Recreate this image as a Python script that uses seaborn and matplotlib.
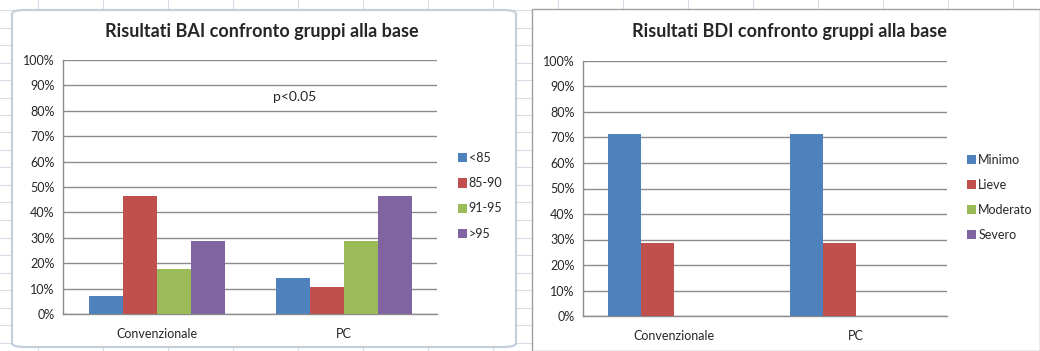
import numpy as np
import pandas as pd
import matplotlib
matplotlib.use("Agg")
import matplotlib.pyplot as plt
from matplotlib.patches import FancyBboxPatch, Rectangle
from matplotlib.lines import Line2D
import seaborn as sns

# data
groups = ["Convenzionale", "PC"]
bai_classes = ["<85", "85-90", "91-95", ">95"]
bai_conv = [7.1, 46.4, 17.9, 28.6]
bai_pc = [14.3, 10.7, 28.6, 46.4]
bdi_classes = ["Minimo", "Lieve", "Moderato", "Severo"]
bdi_conv = [71.4, 28.6, 0.0, 0.0]
bdi_pc = [71.4, 28.6, 0.0, 0.0]
yticks = list(range(0, 101, 10))

colors = ["#4F81BD", "#C0504D", "#9BBB59", "#8064A2"]

sns.set_theme(style="white")
plt.rcParams["font.family"] = ["Lato", "DejaVu Sans"]
txt = "#262626"

df_bai = pd.DataFrame({
    "gruppo": [g for g in groups for _ in bai_classes],
    "classe": bai_classes * 2,
    "val": bai_conv + bai_pc,
})
df_bdi = pd.DataFrame({
    "gruppo": [g for g in groups for _ in bdi_classes],
    "classe": bdi_classes * 2,
    "val": bdi_conv + bdi_pc,
})

W, H = 1040, 351
fig = plt.figure(figsize=(W / 100, H / 100), dpi=100)
fig.patch.set_facecolor("white")

# spreadsheet grid behind the charts
for x in np.arange(38, W, 65):
    fig.add_artist(Line2D([x / W, x / W], [0, 1], color="#d6dce8", lw=0.8, zorder=-3))
for y in np.arange(10, H, 17.5):
    fig.add_artist(Line2D([0, 1], [1 - y / H, 1 - y / H], color="#d6dce8", lw=0.8, zorder=-3))

# chart frames
fig.add_artist(FancyBboxPatch((12 / W, 1 - 347 / H), (516 - 12) / W, (347 - 10) / H,
                              boxstyle="round,pad=0,rounding_size=0.012",
                              transform=fig.transFigure, facecolor="white",
                              edgecolor="#c3cfda", lw=1.6, zorder=-2))
fig.add_artist(Rectangle((532 / W, 0), (W - 532) / W, 1 - 9 / H,
                         transform=fig.transFigure, facecolor="white",
                         edgecolor="#a0a0a0", lw=1.0, zorder=-2))


def draw(ax, df, classes, title, title_x):
    sns.barplot(data=df, x="gruppo", y="val", hue="classe", hue_order=classes,
                order=groups, palette=colors, width=4 / 5.5, gap=0,
                saturation=1, errorbar=None, ax=ax, zorder=3, edgecolor="none")
    ax.set_facecolor("none")
    ax.set_ylim(0, 100)
    ax.set_xlim(-0.5, 1.5)
    ax.set_yticks(yticks)
    ax.set_yticklabels([f"{t}%" for t in yticks])
    ax.yaxis.grid(True, color="#8c8c8c", lw=1.0, zorder=0)
    ax.set_axisbelow(True)
    for s in ["top", "right"]:
        ax.spines[s].set_visible(False)
    for s in ["left", "bottom"]:
        ax.spines[s].set_color("#8c8c8c")
        ax.spines[s].set_linewidth(1.0)
    ax.tick_params(axis="y", labelsize=9, colors=txt, pad=6, length=0)
    ax.tick_params(axis="x", labelsize=9, colors=txt, pad=10, length=0)
    ax.set_xlabel("")
    ax.set_ylabel("")
    fig.text(title_x / W, 1 - 32 / H, title, ha="center", va="center",
             fontsize=13, fontweight="bold", color=txt)
    leg = ax.legend(loc="center left", bbox_to_anchor=(1.055, 0.465),
                    frameon=False, fontsize=9, handlelength=0.75,
                    handleheight=0.75, handletextpad=0.15, labelspacing=1.05,
                    borderpad=0, borderaxespad=0)
    for t in leg.get_texts():
        t.set_color(txt)


ax1 = fig.add_axes([63 / W, 1 - 314 / H, (437 - 63) / W, (314 - 60) / H])
draw(ax1, df_bai, bai_classes, "Risultati BAI confronto gruppi alla base", 262)
ax1.text(0.74, 85.5, "p<0.05", ha="center", va="center", fontsize=10, color=txt)

ax2 = fig.add_axes([583 / W, 1 - 316 / H, (947 - 583) / W, (316 - 61) / H])
draw(ax2, df_bdi, bdi_classes, "Risultati BDI confronto gruppi alla base", 789)

fig.savefig("out.png", dpi=100)
